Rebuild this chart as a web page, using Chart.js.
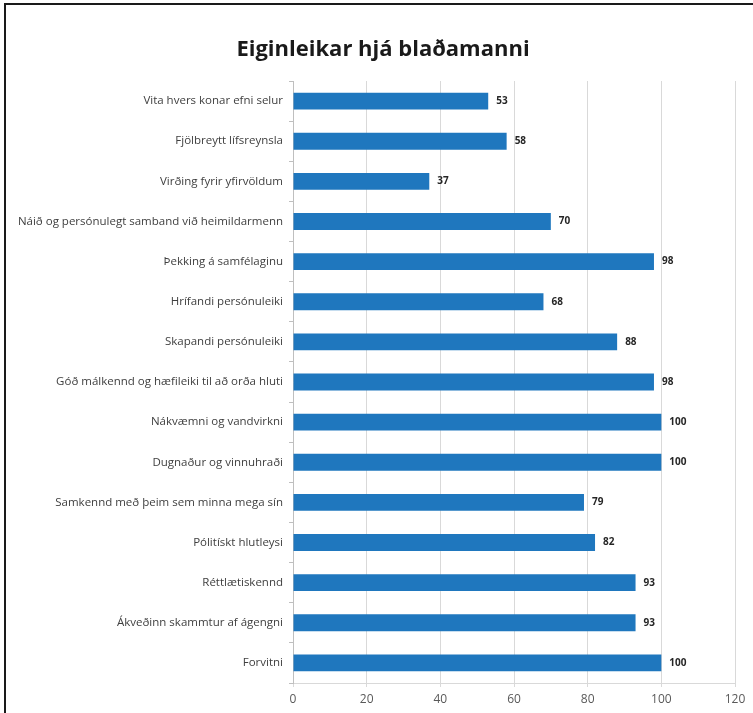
<!DOCTYPE html>
<html>
<head>
<meta charset="utf-8">
<script src="https://cdn.jsdelivr.net/npm/chart.js@4"></script>
<style>
  html, body { margin: 0; padding: 0; background: #fff; }
  #wrap { position: relative; width: 753px; height: 713px; }
  #frame { position: absolute; left: 4px; top: 3px; width: 760px; height: 720px;
           border-top: 2px solid #1a1a1a; border-left: 2px solid #1a1a1a; pointer-events: none; }
  canvas { position: absolute; left: 0; top: 0; }
</style>
</head>
<body>
<div id="wrap">
  <canvas id="mychart" width="753" height="713"></canvas>
  <div id="frame"></div>
</div>
<script>
// Eiginleikar - categories top to bottom
var chartTitle = "Eiginleikar hjá blaðamanni";
var labels = [
  "Vita hvers konar efni selur",
  "Fjölbreytt lífsreynsla",
  "Virðing fyrir yfirvöldum",
  "Náið og persónulegt samband við heimildarmenn",
  "Þekking á samfélaginu",
  "Hrífandi persónuleiki",
  "Skapandi persónuleiki",
  "Góð málkennd og hæfileiki til að orða hluti",
  "Nákvæmni og vandvirkni",
  "Dugnaður og vinnuhraði",
  "Samkennd með þeim sem minna mega sín",
  "Pólitískt hlutleysi",
  "Réttlætiskennd",
  "Ákveðinn skammtur af ágengni",
  "Forvitni"
];
var values = [53, 58, 37, 70, 98, 68, 88, 98, 100, 100, 79, 82, 93, 93, 100];
var xTicks = [0, 20, 40, 60, 80, 100, 120];

var fontName = "'Open Sans', sans-serif";

// title sits a bit right of the canvas centre, so draw it by hand
var titleText = {
  id: 'titleText',
  afterDraw: function (chart) {
    var ctx = chart.ctx;
    ctx.save();
    ctx.font = "bold 22px " + fontName;
    ctx.fillStyle = "#1a1a1a";
    ctx.textAlign = "center";
    ctx.textBaseline = "middle";
    ctx.fillText(chartTitle, 383, 50);
    ctx.restore();
  }
};

// draw the numbers after each bar
var valueLabels = {
  id: 'valueLabels',
  afterDatasetsDraw: function (chart) {
    var ctx = chart.ctx;
    var meta = chart.getDatasetMeta(0);
    ctx.save();
    ctx.font = "bold 10px " + fontName;
    ctx.fillStyle = "#262626";
    ctx.textAlign = "left";
    ctx.textBaseline = "middle";
    meta.data.forEach(function (bar, i) {
      ctx.fillText(values[i], bar.x + 8, bar.y);
    });
    ctx.restore();
  }
};

var context = document.getElementById("mychart").getContext("2d");
var chart = new Chart(context, {
  type: 'bar',
  data: {
    labels: labels,
    datasets: [{
      data: values,
      backgroundColor: "#1f77be",
      barPercentage: 0.42,
      categoryPercentage: 1.0
    }]
  },
  options: {
    indexAxis: 'y',
    responsive: false,
    animation: false,
    layout: { padding: { left: 0, right: 18, top: 81, bottom: 0 } },
    plugins: {
      legend: { display: false },
      tooltip: { enabled: false },
      title: { display: false }
    },
    scales: {
      x: {
        min: 0,
        max: 120,
        afterBuildTicks: function (scale) {
          scale.ticks = xTicks.map(function (v) { return { value: v }; });
        },
        grid: { color: '#d9d9d9', tickLength: 4, drawTicks: true },
        border: { color: '#d9d9d9' },
        ticks: { color: '#595959', padding: 5, font: { family: fontName, size: 12 } },
        afterFit: function (scale) { scale.height = 30; }
      },
      y: {
        grid: { offset: true, drawOnChartArea: false, tickLength: 4, color: '#bfbfbf' },
        border: { color: '#bfbfbf' },
        ticks: { color: '#404040', padding: 6, autoSkip: false, font: { family: fontName, size: 11.5 } },
        afterFit: function (scale) { scale.width = 293; }
      }
    }
  },
  plugins: [valueLabels, titleText]
});
</script>
</body>
</html>
